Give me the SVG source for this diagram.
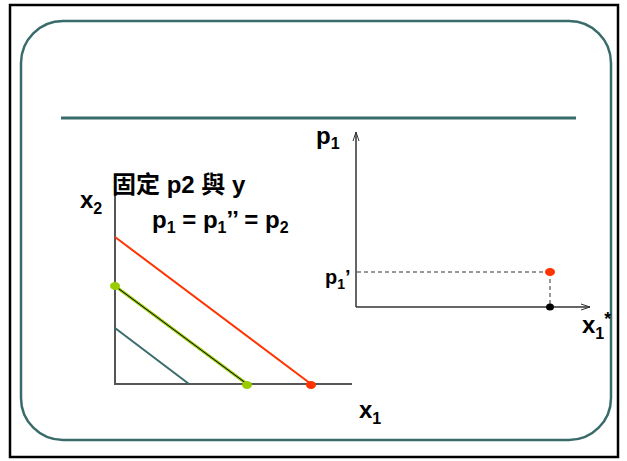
<svg xmlns="http://www.w3.org/2000/svg" width="627" height="461" viewBox="0 0 627 461">
<style>
.lbl{font-family:"Liberation Sans","Noto Sans CJK TC",Arial,sans-serif;font-weight:bold;font-size:24px;fill:#000}
.sub{font-size:16px}
.axis{stroke:#555;stroke-width:2;fill:none}
.axisk{stroke:#333;stroke-width:1.5;fill:none}
.dash{stroke:#333;stroke-width:1;stroke-dasharray:4 3;fill:none}
</style>
<defs>
<marker id="arr" markerWidth="10" markerHeight="8" refX="9" refY="4" orient="auto" markerUnits="userSpaceOnUse">
<path d="M0,1 L9,4 L0,7" fill="none" stroke="#333" stroke-width="1"/>
</marker>
</defs>
<rect x="0" y="0" width="627" height="461" fill="#fff"/>
<g id="frame">
<rect x="10" y="5" width="608" height="452" fill="none" stroke="#000" stroke-width="2.5"/>
<rect x="21" y="21" width="590" height="419" rx="42" ry="42" fill="none" stroke="#3a6b6b" stroke-width="2.5"/>
<line x1="61" y1="118" x2="576" y2="118" stroke="#3a6b6b" stroke-width="3"/>
</g>
<g id="connectors">
<polyline class="axis" points="115,188 115,384 352,384"/>
<line x1="115" y1="237" x2="311" y2="384" stroke="#ff3300" stroke-width="2"/>
<line x1="115" y1="286" x2="247" y2="384" stroke="#99cc00" stroke-width="3"/>
<line x1="115" y1="286" x2="247" y2="384" stroke="#000" stroke-width="1"/>
<line x1="115" y1="328" x2="189" y2="384" stroke="#3a6b6b" stroke-width="2"/>
<line class="axisk" x1="356" y1="307" x2="356" y2="132" marker-end="url(#arr)"/>
<line class="axisk" x1="356" y1="307" x2="590" y2="307" marker-end="url(#arr)"/>
<line class="dash" x1="357" y1="272" x2="550" y2="272"/>
<line class="dash" x1="550" y1="272" x2="550" y2="307"/>
</g>
<g id="points">
<ellipse cx="115" cy="286" rx="5" ry="4" fill="#99cc00"/>
<ellipse cx="247" cy="385" rx="5" ry="4" fill="#99cc00"/>
<ellipse cx="311" cy="385" rx="5" ry="4" fill="#ff3300"/>
<ellipse cx="550" cy="272" rx="5" ry="4" fill="#ff3300"/>
<ellipse cx="550" cy="307" rx="4" ry="3.5" fill="#000"/>
</g>
<g id="labels">
<text class="lbl" x="112" y="193">固定 p2 與 y</text>
<text class="lbl" x="80" y="208">x<tspan class="sub" dy="6">2</tspan></text>
<text class="lbl" x="152" y="228">p<tspan class="sub" dy="5">1</tspan><tspan dy="-5"> = p</tspan><tspan class="sub" dy="5">1</tspan><tspan dy="-5">’’ = p</tspan><tspan class="sub" dy="5">2</tspan></text>
<text class="lbl" x="359" y="418">x<tspan class="sub" dy="6">1</tspan></text>
<text class="lbl" x="316" y="144">p<tspan class="sub" dy="5">1</tspan></text>
<text class="lbl" x="325" y="284" style="font-size:20px">p<tspan class="sub" style="font-size:14px" dy="5">1</tspan><tspan dy="-5">’</tspan></text>
<text class="lbl" x="582" y="333">x<tspan class="sub" dy="6">1</tspan><tspan dy="-14" style="font-size:18px">*</tspan></text>
</g>
</svg>
